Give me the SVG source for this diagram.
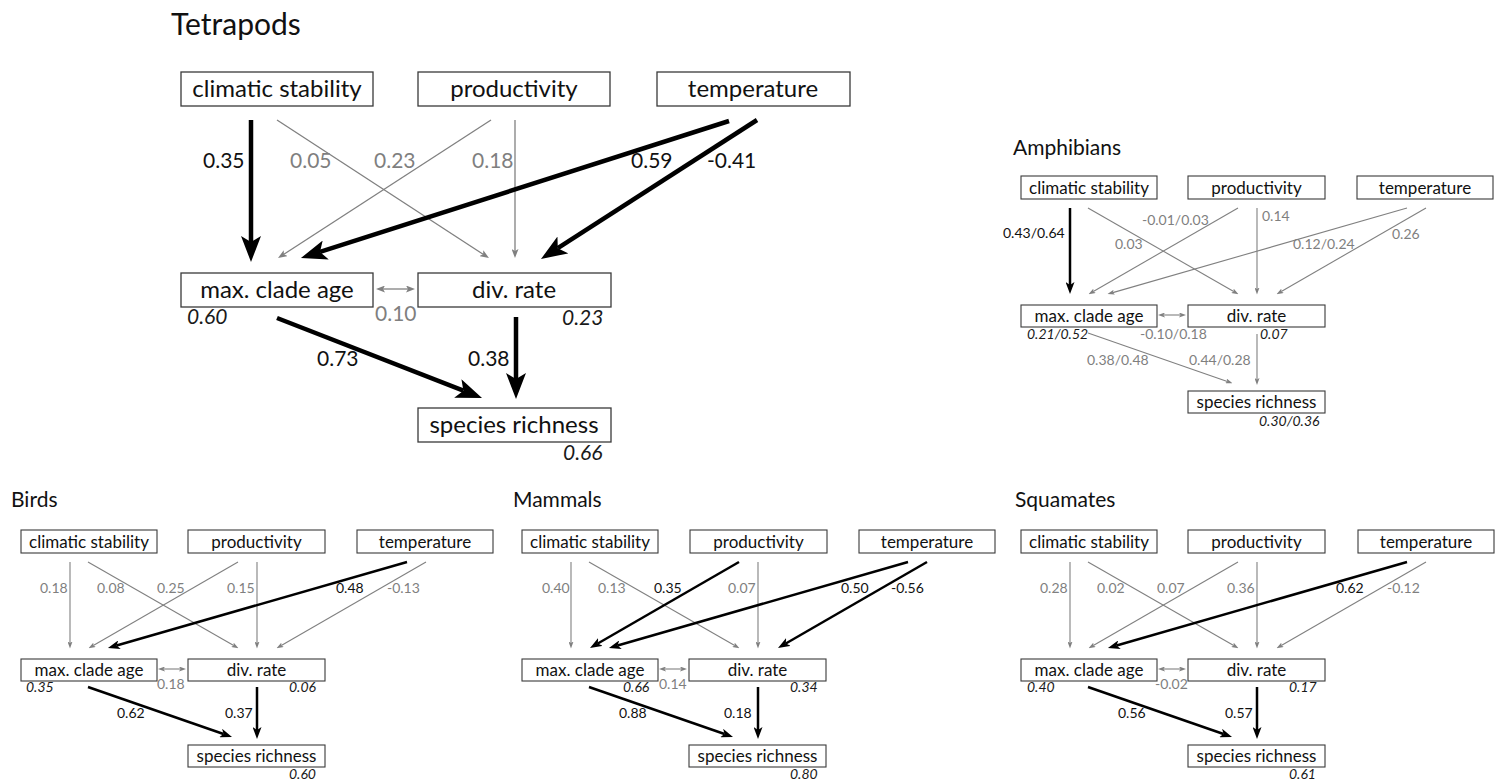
<svg xmlns="http://www.w3.org/2000/svg" width="1505" height="782" viewBox="0 0 1505 782">
<style>
text{font-family:Lato,"Open Sans","Liberation Sans",sans-serif;fill:#111}
.title{font-size:30px}
.stitle{font-size:21px}
.box{fill:#fff;stroke:#3a3a3a;stroke-width:1.3}
.sbox{fill:#fff;stroke:#3a3a3a;stroke-width:1.1}
.bt{font-size:24px;text-anchor:middle}
.st{font-size:17px;text-anchor:middle}
.ml{font-size:21px}
.sl{font-size:14px}
.g{fill:#7f7f7f}
.it{font-style:italic;fill:#1a1a1a}
.mk{stroke:#000;stroke-width:4.5;fill:none}
.mg{stroke:#808080;stroke-width:1.3;fill:none}
.sk{stroke:#000;stroke-width:2.5;fill:none}
.sg{stroke:#808080;stroke-width:1.1;fill:none}
</style>
<defs>
<marker id="aMK" markerUnits="userSpaceOnUse" viewBox="0 0 26 20" markerWidth="26" markerHeight="20" refX="6" refY="10" orient="auto"><path d="M0,0 L26,10 L0,20 L6,10 z" fill="#000"/></marker>
<marker id="aMG" markerUnits="userSpaceOnUse" viewBox="0 0 9 7" markerWidth="9" markerHeight="7" refX="2" refY="3.5" orient="auto-start-reverse"><path d="M0,0 L9,3.5 L0,7 L2,3.5 z" fill="#808080"/></marker>
<marker id="aSK" markerUnits="userSpaceOnUse" viewBox="0 0 12 9" markerWidth="12" markerHeight="9" refX="3" refY="4.5" orient="auto"><path d="M0,0 L12,4.5 L0,9 L3,4.5 z" fill="#000"/></marker>
<marker id="aSG" markerUnits="userSpaceOnUse" viewBox="0 0 7 5" markerWidth="7" markerHeight="5" refX="1.5" refY="2.5" orient="auto-start-reverse"><path d="M0,0 L7,2.5 L0,5 L1.5,2.5 z" fill="#808080"/></marker>
</defs>
<rect width="1505" height="782" fill="#fff"/>

<!-- Tetrapods -->
<g id="tetrapods">
<text class="title" x="171" y="35">Tetrapods</text>
<g id="connectors-tetrapods">
<path class="mg" d="M277,120 L483.1,254.2" marker-end="url(#aMG)"/>
<path class="mg" d="M491,120 L283.9,254.2" marker-end="url(#aMG)"/>
<path class="mg" d="M515,120 V251" marker-end="url(#aMG)"/>
<path class="mk" d="M251,120 V242" marker-end="url(#aMK)"/>
<path class="mk" d="M729,121 L320,251.9" marker-end="url(#aMK)"/>
<path class="mk" d="M757,120 L557.8,248.2" marker-end="url(#aMK)"/>
<path class="mg" d="M383,289 H408" marker-start="url(#aMG)" marker-end="url(#aMG)"/>
<path class="mk" d="M277,318 L463.4,390.7" marker-end="url(#aMK)"/>
<path class="mk" d="M516,317 V379" marker-end="url(#aMK)"/>
<text class="ml" x="203" y="168">0.35</text>
<text class="ml g" x="290" y="168">0.05</text>
<text class="ml g" x="374" y="168">0.23</text>
<text class="ml g" x="472" y="168">0.18</text>
<text class="ml" x="631" y="168">0.59</text>
<text class="ml" x="707" y="168">-0.41</text>
<text class="ml g" x="375" y="321">0.10</text>
<text class="ml" x="317" y="366">0.73</text>
<text class="ml" x="468" y="366">0.38</text>
</g>
<g id="t-clim"><rect class="box" x="181" y="72" width="192" height="34"/><text class="bt" x="277" y="97">climatic stability</text></g>
<g id="t-prod"><rect class="box" x="418" y="72" width="192" height="34"/><text class="bt" x="514" y="97">productivity</text></g>
<g id="t-temp"><rect class="box" x="657" y="72" width="193" height="34"/><text class="bt" x="753" y="97">temperature</text></g>
<g id="t-age"><rect class="box" x="181" y="273" width="192" height="34"/><text class="bt" x="277" y="298">max. clade age</text><text class="ml it" x="187" y="324">0.60</text></g>
<g id="t-div"><rect class="box" x="418" y="273" width="193" height="34"/><text class="bt" x="514" y="298">div. rate</text><text class="ml it" x="562" y="325">0.23</text></g>
<g id="t-rich"><rect class="box" x="418" y="408" width="193" height="34"/><text class="bt" x="514" y="433">species richness</text><text class="ml it" x="563" y="460">0.66</text></g>
</g>

<!-- Amphibians -->
<g id="amphibians" transform="translate(1000,-354)">
<text class="stitle" x="13" y="509">Amphibians</text>
<g id="connectors-amphibians">
<path class="sk" d="M70,562 V639" marker-end="url(#aSK)"/>
<path class="sg" d="M88,562 L233.7,645.5" marker-end="url(#aSG)"/>
<path class="sg" d="M238,562 L93.3,645.5" marker-end="url(#aSG)"/>
<path class="sg" d="M257,562 V643" marker-end="url(#aSG)"/>
<path class="sg" d="M407,562 L112.8,646.6" marker-end="url(#aSG)"/>
<path class="sg" d="M426,562 L281.3,645.5" marker-end="url(#aSG)"/>
<path class="sg" d="M163.5,669 H180.5" marker-start="url(#aSG)" marker-end="url(#aSG)"/>
<path class="sg" d="M88,687 L227.3,735.4" marker-end="url(#aSG)"/>
<path class="sg" d="M257,688 V733.5" marker-end="url(#aSG)"/>
<text class="sl" x="3" y="592">0.43/0.64</text>
<text class="sl g" x="115" y="603">0.03</text>
<text class="sl g" x="142" y="579">-0.01/0.03</text>
<text class="sl g" x="262" y="575">0.14</text>
<text class="sl g" x="293" y="603">0.12/0.24</text>
<text class="sl g" x="392" y="593">0.26</text>
<text class="sl g" x="140" y="693">-0.10/0.18</text>
<text class="sl g" x="87" y="719">0.38/0.48</text>
<text class="sl g" x="189" y="719">0.44/0.28</text>
</g>
<g id="a-clim"><rect class="sbox" x="21" y="530" width="136" height="23"/><text class="st" x="89" y="547.5">climatic stability</text></g>
<g id="a-prod"><rect class="sbox" x="188" y="530" width="137" height="23"/><text class="st" x="256.5" y="547.5">productivity</text></g>
<g id="a-temp"><rect class="sbox" x="357" y="530" width="136" height="23"/><text class="st" x="425" y="547.5">temperature</text></g>
<g id="a-age"><rect class="sbox" x="21" y="659" width="136" height="22"/><text class="st" x="89" y="676">max. clade age</text><text class="sl it" x="27" y="693">0.21/0.52</text></g>
<g id="a-div"><rect class="sbox" x="188" y="659" width="137" height="22"/><text class="st" x="256.5" y="676">div. rate</text><text class="sl it" x="260" y="693">0.07</text></g>
<g id="a-rich"><rect class="sbox" x="188" y="745" width="137" height="22"/><text class="st" x="256.5" y="762">species richness</text><text class="sl it" x="259" y="780">0.30/0.36</text></g>
</g>

<!-- Birds -->
<g id="birds">
<text class="stitle" x="11" y="507">Birds</text>
<g id="connectors-birds">
<path class="sg" d="M70,562 V643" marker-end="url(#aSG)"/>
<path class="sg" d="M88,562 L233.7,645.5" marker-end="url(#aSG)"/>
<path class="sg" d="M238,562 L93.3,645.5" marker-end="url(#aSG)"/>
<path class="sg" d="M257,562 V643" marker-end="url(#aSG)"/>
<path class="sk" d="M407,562 L116.6,645.5" marker-end="url(#aSK)"/>
<path class="sg" d="M426,562 L281.3,645.5" marker-end="url(#aSG)"/>
<path class="sg" d="M163.5,669 H180.5" marker-start="url(#aSG)" marker-end="url(#aSG)"/>
<path class="sk" d="M88,687 L223.5,734" marker-end="url(#aSK)"/>
<path class="sk" d="M257,687 V730" marker-end="url(#aSK)"/>
<text class="sl g" x="40" y="593">0.18</text>
<text class="sl g" x="97" y="593">0.08</text>
<text class="sl g" x="157" y="593">0.25</text>
<text class="sl g" x="227" y="593">0.15</text>
<text class="sl" x="336" y="593">0.48</text>
<text class="sl g" x="387" y="593">-0.13</text>
<text class="sl g" x="157" y="689">0.18</text>
<text class="sl" x="117" y="718">0.62</text>
<text class="sl" x="225" y="718">0.37</text>
</g>
<g id="b-clim"><rect class="sbox" x="21" y="530" width="136" height="23"/><text class="st" x="89" y="547.5">climatic stability</text></g>
<g id="b-prod"><rect class="sbox" x="188" y="530" width="137" height="23"/><text class="st" x="256.5" y="547.5">productivity</text></g>
<g id="b-temp"><rect class="sbox" x="357" y="530" width="136" height="23"/><text class="st" x="425" y="547.5">temperature</text></g>
<g id="b-age"><rect class="sbox" x="21" y="659" width="136" height="22"/><text class="st" x="89" y="676">max. clade age</text><text class="sl it" x="26" y="692">0.35</text></g>
<g id="b-div"><rect class="sbox" x="188" y="659" width="137" height="22"/><text class="st" x="256.5" y="676">div. rate</text><text class="sl it" x="289" y="692">0.06</text></g>
<g id="b-rich"><rect class="sbox" x="188" y="745" width="137" height="22"/><text class="st" x="256.5" y="762">species richness</text><text class="sl it" x="289" y="779">0.60</text></g>
</g>

<!-- Mammals -->
<g id="mammals" transform="translate(501,0)">
<text class="stitle" x="12" y="507">Mammals</text>
<g id="connectors-mammals">
<path class="sg" d="M70,562 V643" marker-end="url(#aSG)"/>
<path class="sg" d="M88,562 L233.7,645.5" marker-end="url(#aSG)"/>
<path class="sk" d="M238,562 L96.8,643.5" marker-end="url(#aSK)"/>
<path class="sg" d="M257,562 V643" marker-end="url(#aSG)"/>
<path class="sk" d="M407,562 L116.6,645.5" marker-end="url(#aSK)"/>
<path class="sk" d="M426,562 L284.8,643.5" marker-end="url(#aSK)"/>
<path class="sg" d="M163.5,669 H180.5" marker-start="url(#aSG)" marker-end="url(#aSG)"/>
<path class="sk" d="M88,687 L223.5,734" marker-end="url(#aSK)"/>
<path class="sk" d="M257,687 V730" marker-end="url(#aSK)"/>
<text class="sl g" x="41" y="593">0.40</text>
<text class="sl g" x="97" y="593">0.13</text>
<text class="sl" x="153" y="593">0.35</text>
<text class="sl g" x="227" y="593">0.07</text>
<text class="sl" x="340" y="593">0.50</text>
<text class="sl" x="390" y="593">-0.56</text>
<text class="sl g" x="158" y="689">0.14</text>
<text class="sl" x="118" y="718">0.88</text>
<text class="sl" x="223" y="718">0.18</text>
</g>
<g id="m-clim"><rect class="sbox" x="21" y="530" width="136" height="23"/><text class="st" x="89" y="547.5">climatic stability</text></g>
<g id="m-prod"><rect class="sbox" x="189" y="530" width="137" height="23"/><text class="st" x="257.5" y="547.5">productivity</text></g>
<g id="m-temp"><rect class="sbox" x="358" y="530" width="136" height="23"/><text class="st" x="426" y="547.5">temperature</text></g>
<g id="m-age"><rect class="sbox" x="21" y="659" width="136" height="22"/><text class="st" x="89" y="676">max. clade age</text><text class="sl it" x="122" y="692">0.66</text></g>
<g id="m-div"><rect class="sbox" x="188" y="659" width="137" height="22"/><text class="st" x="256.5" y="676">div. rate</text><text class="sl it" x="289" y="692">0.34</text></g>
<g id="m-rich"><rect class="sbox" x="188" y="745" width="137" height="22"/><text class="st" x="256.5" y="762">species richness</text><text class="sl it" x="289" y="779">0.80</text></g>
</g>

<!-- Squamates -->
<g id="squamates" transform="translate(1000,0)">
<text class="stitle" x="15" y="507">Squamates</text>
<g id="connectors-squamates">
<path class="sg" d="M70,562 V643" marker-end="url(#aSG)"/>
<path class="sg" d="M88,562 L233.7,645.5" marker-end="url(#aSG)"/>
<path class="sg" d="M238,562 L93.3,645.5" marker-end="url(#aSG)"/>
<path class="sg" d="M257,562 V643" marker-end="url(#aSG)"/>
<path class="sk" d="M407,562 L116.6,645.5" marker-end="url(#aSK)"/>
<path class="sg" d="M426,562 L281.3,645.5" marker-end="url(#aSG)"/>
<path class="sg" d="M163.5,669 H180.5" marker-start="url(#aSG)" marker-end="url(#aSG)"/>
<path class="sk" d="M88,687 L223.5,734" marker-end="url(#aSK)"/>
<path class="sk" d="M257,687 V730" marker-end="url(#aSK)"/>
<text class="sl g" x="40" y="593">0.28</text>
<text class="sl g" x="97" y="593">0.02</text>
<text class="sl g" x="157" y="593">0.07</text>
<text class="sl g" x="227" y="593">0.36</text>
<text class="sl" x="336" y="593">0.62</text>
<text class="sl g" x="387" y="593">-0.12</text>
<text class="sl g" x="155" y="689">-0.02</text>
<text class="sl" x="118" y="718">0.56</text>
<text class="sl" x="225" y="718">0.57</text>
</g>
<g id="s-clim"><rect class="sbox" x="21" y="530" width="136" height="23"/><text class="st" x="89" y="547.5">climatic stability</text></g>
<g id="s-prod"><rect class="sbox" x="188" y="530" width="137" height="23"/><text class="st" x="256.5" y="547.5">productivity</text></g>
<g id="s-temp"><rect class="sbox" x="358" y="530" width="136" height="23"/><text class="st" x="426" y="547.5">temperature</text></g>
<g id="s-age"><rect class="sbox" x="21" y="659" width="136" height="22"/><text class="st" x="89" y="676">max. clade age</text><text class="sl it" x="27" y="692">0.40</text></g>
<g id="s-div"><rect class="sbox" x="188" y="659" width="137" height="22"/><text class="st" x="256.5" y="676">div. rate</text><text class="sl it" x="289" y="692">0.17</text></g>
<g id="s-rich"><rect class="sbox" x="188" y="745" width="137" height="22"/><text class="st" x="256.5" y="762">species richness</text><text class="sl it" x="289" y="779">0.61</text></g>
</g>
</svg>
